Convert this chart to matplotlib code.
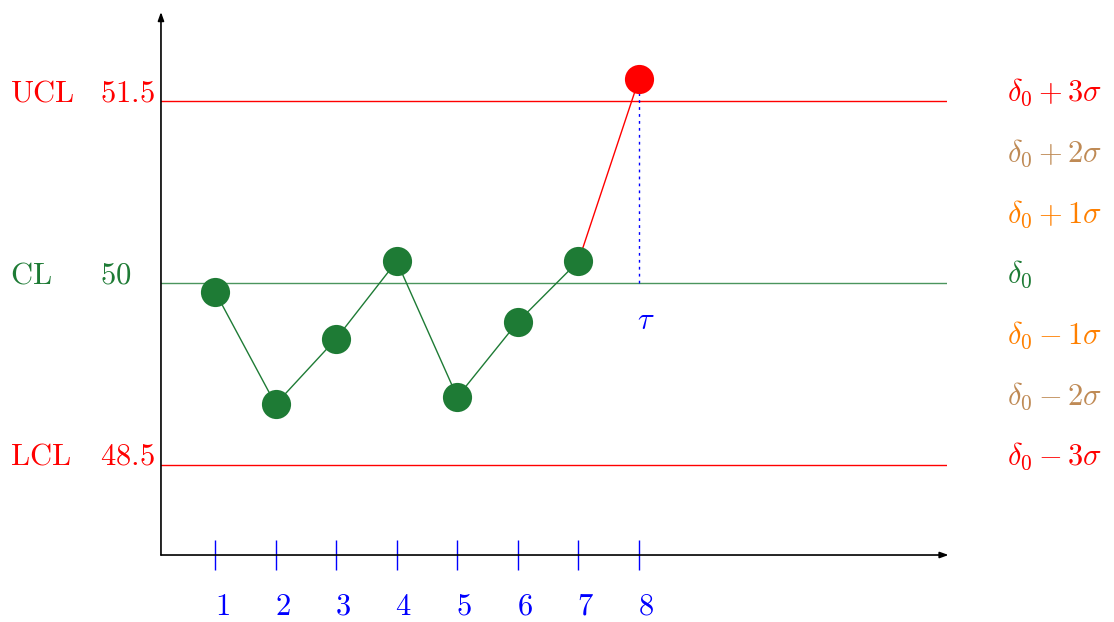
import matplotlib
matplotlib.use("Agg")
import matplotlib.pyplot as plt
import matplotlib.transforms as mtransforms

plt.rcParams['mathtext.fontset'] = 'cm'
plt.rcParams['font.family'] = 'DejaVu Serif'

samples = [1, 2, 3, 4, 5, 6, 7, 8]
values = [49.93, 49.0, 49.54, 50.18, 49.06, 49.68, 50.18, 51.68]
ucl, cl, lcl = 51.5, 50.0, 48.5
sigma_levels = [51.5, 51.0, 50.5, 50.0, 49.5, 49.0, 48.5]
sigma_labels = [r'$\delta_0+3\sigma$', r'$\delta_0+2\sigma$', r'$\delta_0+1\sigma$',
                r'$\delta_0$',
                r'$\delta_0-1\sigma$', r'$\delta_0-2\sigma$', r'$\delta_0-3\sigma$']
sigma_colors = ['#ff0000', '#bf8a55', '#ff8000', '#1e7b35',
                '#ff8000', '#bf8a55', '#ff0000']

green = '#1e7b35'
red = '#ff0000'
blue = '#0000ff'

fig = plt.figure(figsize=(11.14, 6.22), dpi=100)
ax = fig.add_axes([0.1445, 0.1077, 0.7056, 0.873])
ax.set_xlim(0.1085, 13.085)
ax.set_ylim(47.758, 52.234)

for s in ax.spines.values():
    s.set_visible(False)

# axes with arrow heads
ax.annotate('', xy=(1.002, 0), xytext=(0, 0), xycoords='axes fraction',
            arrowprops=dict(arrowstyle='-|>,head_length=0.5,head_width=0.18',
                            color='black', lw=1.2, shrinkA=0, shrinkB=0))
ax.annotate('', xy=(0, 1.0), xytext=(0, 0), xycoords='axes fraction',
            arrowprops=dict(arrowstyle='-|>,head_length=0.5,head_width=0.18',
                            color='black', lw=1.2, shrinkA=0, shrinkB=0))

# control limits
ax.axhline(ucl, color=red, lw=1.0)
ax.axhline(cl, color=green, lw=1.0, alpha=0.8)
ax.axhline(lcl, color=red, lw=1.0)

# sample path
ax.plot(samples[:7], values[:7], color=green, lw=1.0, zorder=3)
ax.plot(samples[6:8], values[6:8], color=red, lw=1.0, zorder=3)
ax.plot(samples[:7], values[:7], 'o', color=green, ms=21, mec='none', zorder=4)
ax.plot(samples[7], values[7], 'o', color=red, ms=21, mec='none', zorder=4)

# change point
ax.plot([samples[7], samples[7]], [cl, values[7]], color=blue, lw=1.0,
        ls=(0, (2, 3)), zorder=2)
ax.text(samples[7] + 0.12, 49.69, r'$\tau$', color=blue, fontsize=22,
        ha='center', va='center')

# sample index ticks and labels
ax.set_yticks([])
ax.set_xticks(samples)
ax.set_xticklabels([])
ax.tick_params(axis='x', direction='inout', length=22, width=1.0, color=blue)
xtrans = mtransforms.blended_transform_factory(ax.transData, ax.transAxes)
for s in samples:
    ax.text(s + 0.115, -51 / 543, rf'${s}$', color=blue, fontsize=22,
            transform=xtrans, ha='center', va='center')

# labels left and right of the chart
trans = mtransforms.blended_transform_factory(fig.transFigure, ax.transData)
for name, val, col in [('UCL', ucl, red), ('CL', cl, green), ('LCL', lcl, red)]:
    ax.text(10 / 1114, val, rf'$\mathrm{{{name}}}$', color=col, fontsize=22,
            transform=trans, ha='left', va='baseline')
    ax.text(100 / 1114, val, rf'${val:g}$', color=col, fontsize=22,
            transform=trans, ha='left', va='baseline')

for val, lab, col in zip(sigma_levels, sigma_labels, sigma_colors):
    ax.text(1007 / 1114, val, lab, color=col, fontsize=22,
            transform=trans, ha='left', va='baseline')

fig.savefig('out.png', dpi=100)
